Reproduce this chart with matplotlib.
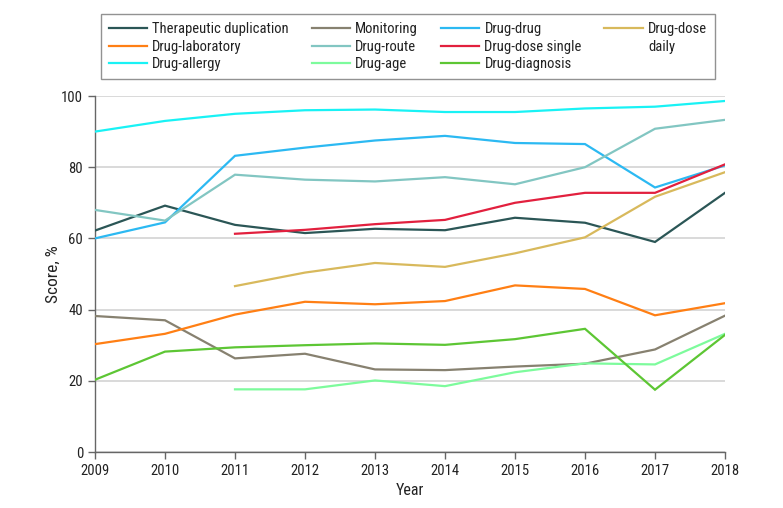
import matplotlib
matplotlib.use("Agg")
import matplotlib.pyplot as plt
from matplotlib.lines import Line2D
import numpy as np

years = [2009, 2010, 2011, 2012, 2013, 2014, 2015, 2016, 2017, 2018]
nan = np.nan

therapeutic_duplication = [62.2, 69.2, 63.8, 61.5, 62.7, 62.3, 65.8, 64.4, 59.0, 72.8]
monitoring = [38.2, 37.0, 26.3, 27.6, 23.2, 23.0, 24.0, 24.8, 28.8, 38.3]
drug_drug = [60.0, 64.5, 83.2, 85.5, 87.5, 88.8, 86.8, 86.5, 74.3, 80.5]
drug_dose_daily = [nan, nan, 46.6, 50.4, 53.1, 52.0, 55.8, 60.3, 71.7, 78.6]
drug_laboratory = [30.3, 33.2, 38.6, 42.2, 41.5, 42.4, 46.8, 45.8, 38.4, 41.8]
drug_route = [68.0, 65.0, 77.9, 76.5, 76.0, 77.2, 75.2, 80.0, 90.8, 93.3]
drug_dose_single = [nan, nan, 61.3, 62.4, 64.0, 65.2, 70.0, 72.8, 72.8, 80.8]
drug_allergy = [90.0, 93.0, 95.0, 96.0, 96.2, 95.5, 95.5, 96.5, 97.0, 98.6]
drug_age = [nan, nan, 17.6, 17.6, 20.1, 18.5, 22.4, 24.9, 24.6, 33.2]
drug_diagnosis = [20.3, 28.2, 29.4, 30.0, 30.5, 30.1, 31.7, 34.6, 17.5, 32.9]

series = [
    ("Therapeutic duplication", therapeutic_duplication, "#2b5656"),
    ("Monitoring", monitoring, "#878170"),
    ("Drug-drug", drug_drug, "#2cb9f2"),
    ("Drug-dose daily", drug_dose_daily, "#d8b95c"),
    ("Drug-laboratory", drug_laboratory, "#ff7f14"),
    ("Drug-route", drug_route, "#82c6c2"),
    ("Drug-dose single", drug_dose_single, "#e2203e"),
    ("Drug-allergy", drug_allergy, "#19f2f5"),
    ("Drug-age", drug_age, "#7dfb9c"),
    ("Drug-diagnosis", drug_diagnosis, "#5dc634"),
]

plt.rcParams['font.family'] = ['Roboto Condensed', 'DejaVu Sans']

fig = plt.figure(figsize=(7.83, 5.08), dpi=100)
ax = fig.add_axes([95 / 783, 1 - 452 / 508, 630 / 783, 356 / 508])

handles = {}
for label, vals, color in series:
    ln, = ax.plot(years, vals, color=color, lw=1.6, solid_joinstyle="miter", zorder=3)
    handles[label] = ln

ax.set_xlim(2009, 2018)
ax.set_ylim(0, 100)
ax.set_xticks(years)
ax.set_yticks([0, 20, 40, 60, 80, 100])
ax.yaxis.grid(True, color="#d9d9d9", lw=1.4, zorder=0)
ax.set_axisbelow(True)
for s in ["top", "right"]:
    ax.spines[s].set_visible(False)
for s in ["left", "bottom"]:
    ax.spines[s].set_color("#666666")
    ax.spines[s].set_linewidth(1.0)
ax.tick_params(axis="both", colors="#666666", labelcolor="#222222", labelsize=10.5, length=5, width=1.0)
ax.set_xlabel("Year", fontsize=11.5, color="#222222", labelpad=4)
ax.set_ylabel("Score, %", fontsize=12.5, color="#222222", labelpad=0)

blank = Line2D([], [], color="none")
order = [
    "Therapeutic duplication", "Drug-laboratory", "Drug-allergy",
    "Monitoring", "Drug-route", "Drug-age",
    "Drug-drug", "Drug-dose single", "Drug-diagnosis",
    "Drug-dose daily", None,
]
hs = [handles[k] if k else blank for k in order]
ls = []
for k in order:
    if k == "Drug-dose daily":
        ls.append("Drug-dose")
    elif k is None:
        ls.append("daily")
    else:
        ls.append(k)
leg = fig.legend(hs, ls, ncol=4, loc="upper left",
                 bbox_to_anchor=(100.5 / 783, 1 - 14 / 508),
                 frameon=True, fancybox=False, fontsize=10.5,
                 handlelength=2.65, handletextpad=0.35, columnspacing=1.55,
                 labelspacing=0.25, borderpad=0.55, borderaxespad=0)
leg.get_frame().set_edgecolor("#777777")
leg.get_frame().set_linewidth(1.0)
for t in leg.get_texts():
    t.set_color("#222222")

fig.savefig("out.png", dpi=100)
